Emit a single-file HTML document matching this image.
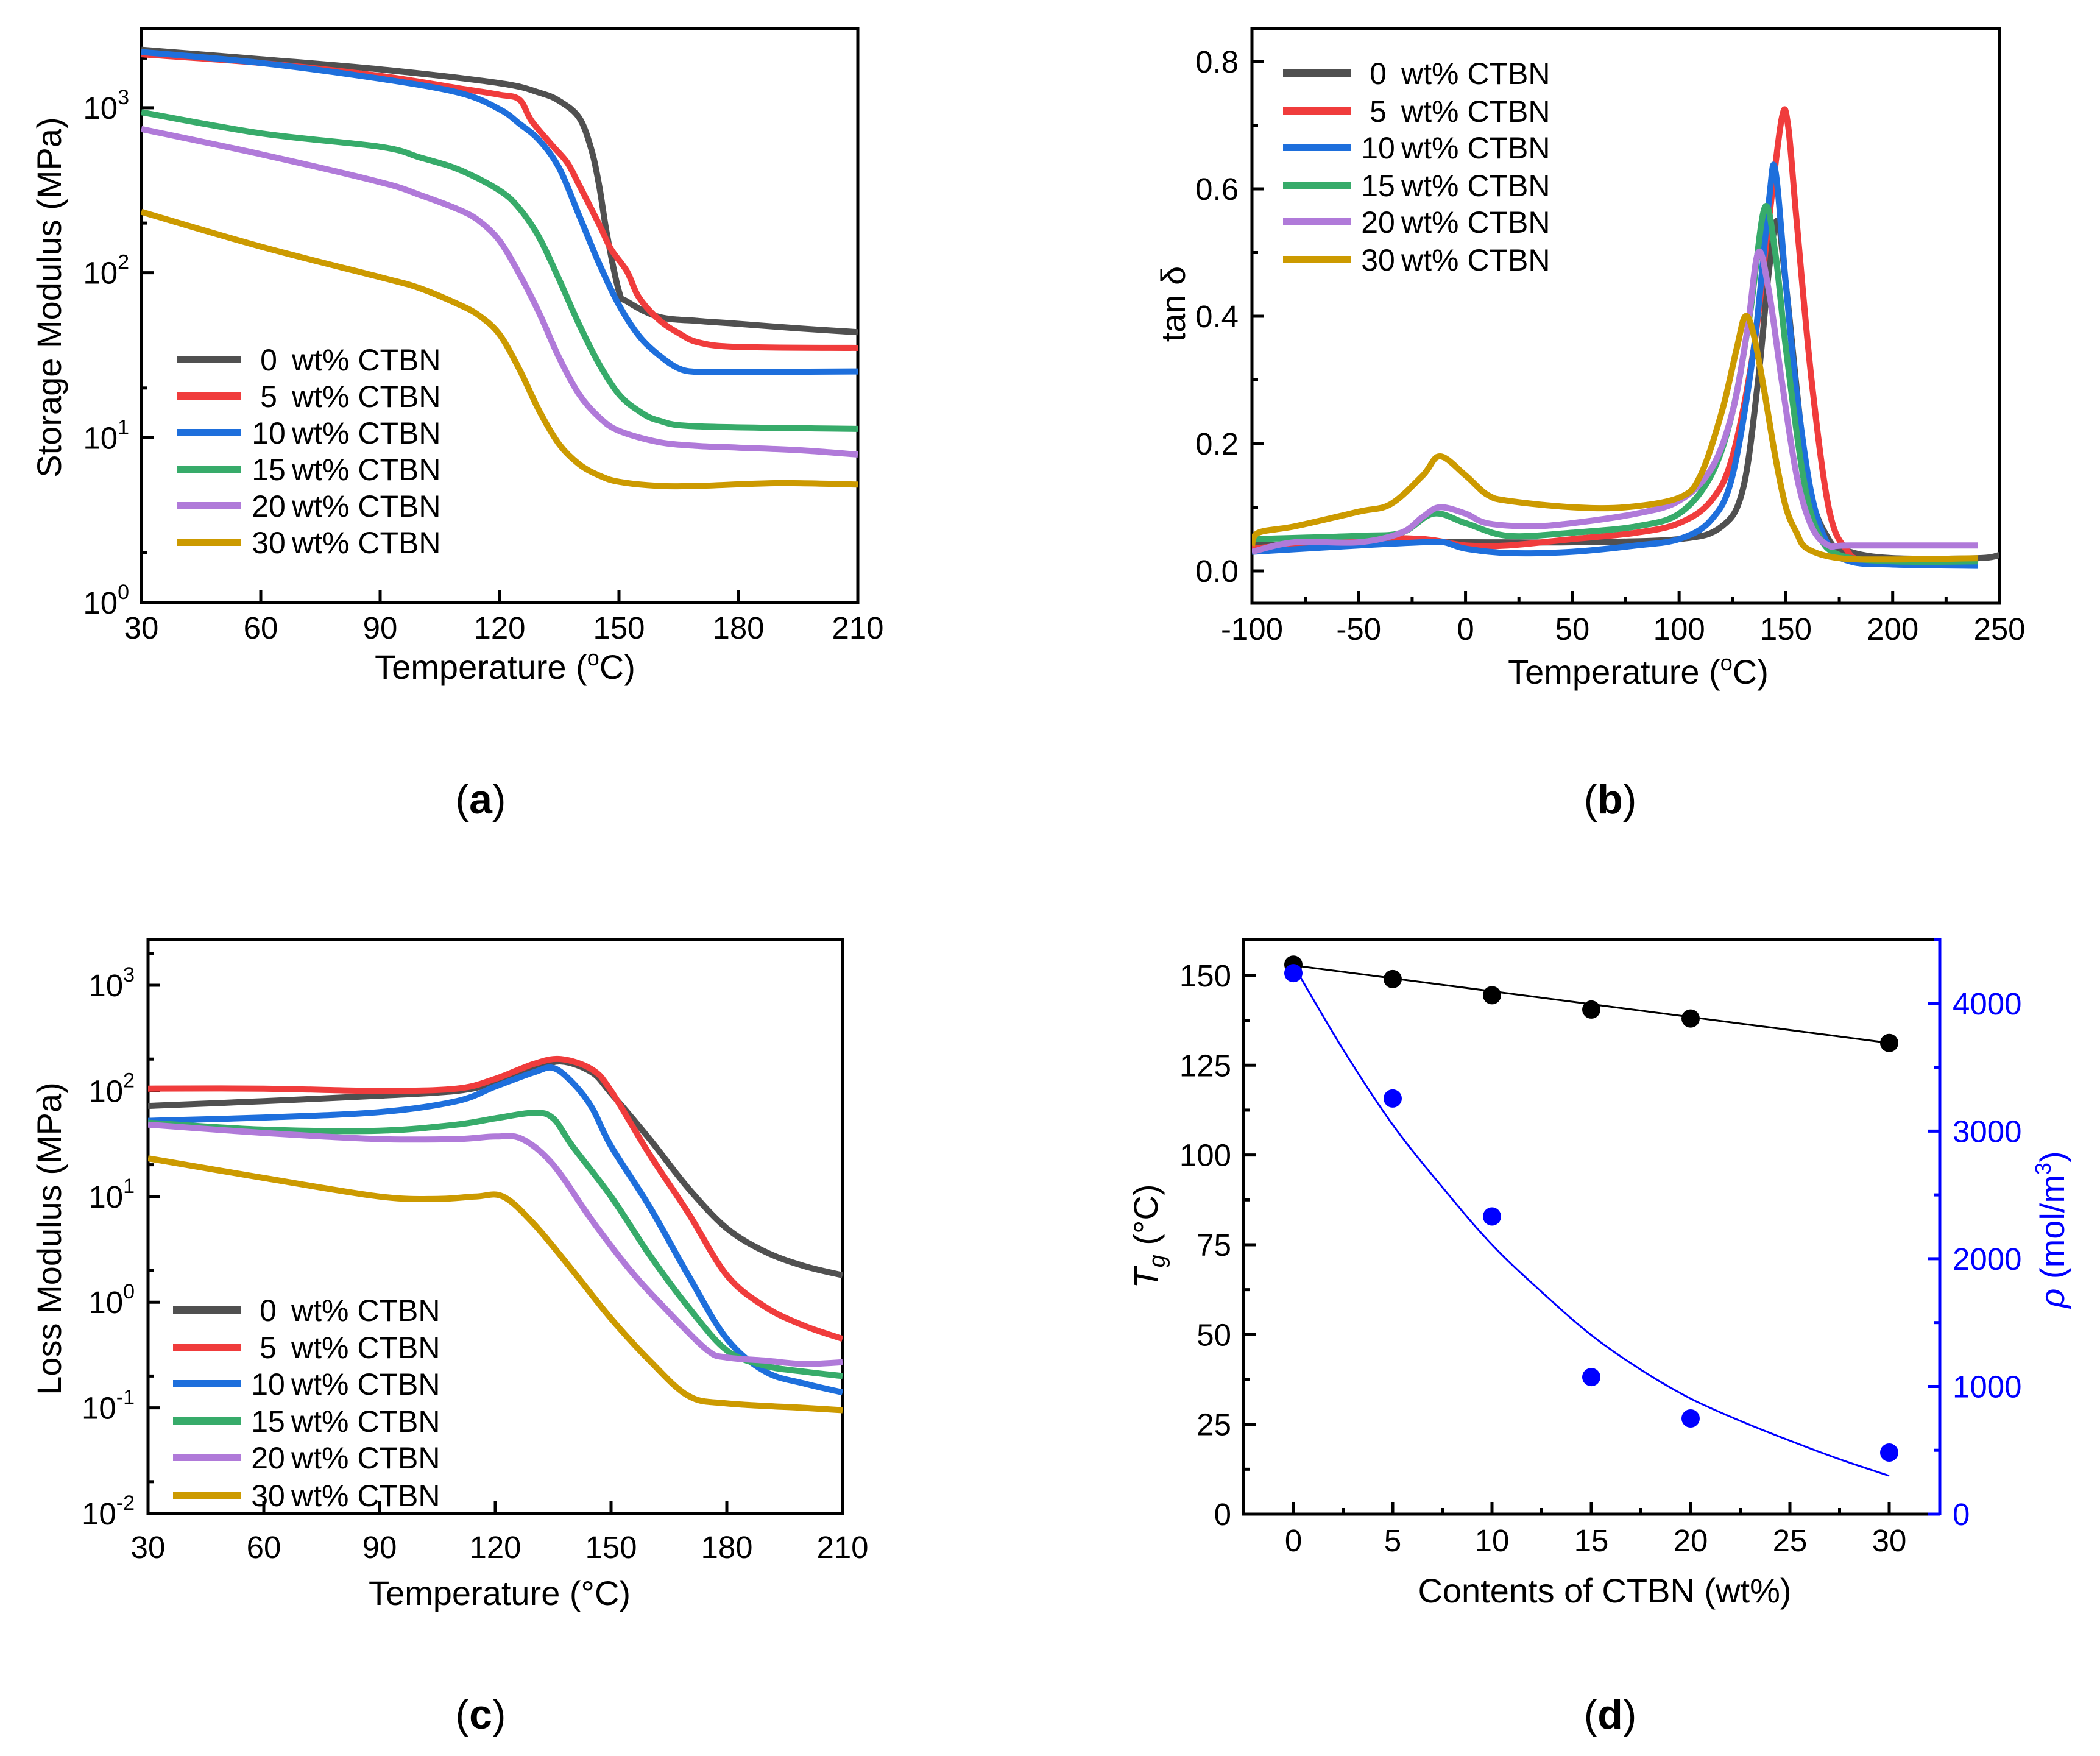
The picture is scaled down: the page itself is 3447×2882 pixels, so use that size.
<!DOCTYPE html>
<html><head><meta charset="utf-8"><title>DMA results</title>
<style>html,body{margin:0;padding:0;background:#fff}svg{display:block}text{font-family:"Liberation Sans",Arial,sans-serif}</style>
</head><body>
<svg id="fig" xmlns="http://www.w3.org/2000/svg" width="3447" height="2882" viewBox="0 0 3447 2882">
<rect width="3447" height="2882" fill="#fff"/>
</svg>
<script>
// ---------- Panel (a) storage modulus data ----------
const aT0=[30,60,90,120,130,135,140,143,145,147,150,152,160,170,180,195,210];
const aE0=[2250,1970,1710,1410,1235,1100,870,565,340,170,77,67,54,51,49,46,43.6];
const aT5=[30,60,90,110,120,125,128,133,137,140,145,148,152,155,160,165,170,180,210];
const aE5=[2110,1870,1560,1310,1200,1120,835,600,465,340,197,139,102,71,52,43,37.8,35.5,35];
const aT10=[30,60,90,110,120,125,130,135,140,145,150,155,160,165,170,180,210];
const aE10=[2180,1870,1500,1230,980,800,635,430,222,114,63.7,41.5,31.7,26.3,25,25,25.2];
const aT15=[30,60,90,100,110,120,125,130,135,140,145,150,155,160,170,210];
const aE15=[940,700,580,500,420,315,245,163,90.6,48.5,28,18.3,14.5,12.7,11.7,11.3];
const aT20=[30,60,90,100,110,115,120,125,130,135,140,145,150,160,170,180,195,210];
const aE20=[743,523,354,296,240,205,156,98,56.7,30.4,18.3,13.3,11,9.4,8.9,8.7,8.4,7.9];
const aT30=[30,60,90,100,110,115,120,125,130,135,140,145,150,160,170,190,210];
const aE30=[234,144,94,80.5,63.8,54.7,42.2,25.9,14.5,9.1,6.9,5.9,5.4,5.1,5.1,5.3,5.2];
const aXTicks=[30,60,90,120,150,180,210];
const aYExp=[0,1,2,3];
// ---------- Panel (b) tan delta data ----------
const bT0=[-100,-50,0,50,100,120,130,137,142,146,150,160,170,180,200,240,250];
const bD0=[0.04,0.045,0.045,0.045,0.05,0.07,0.13,0.30,0.47,0.55,0.45,0.15,0.05,0.03,0.02,0.02,0.025];
const bT5=[-100,-50,-20,0,20,50,80,100,115,125,135,142,148,151,155,162,170,178,190,240];
const bD5=[0.035,0.05,0.05,0.04,0.04,0.05,0.06,0.075,0.11,0.18,0.35,0.55,0.71,0.70,0.55,0.30,0.10,0.035,0.015,0.01];
const bT10=[-100,-50,-20,-10,0,20,50,80,100,115,125,135,142,145,150,155,162,170,180,200,240];
const bD10=[0.03,0.04,0.045,0.045,0.035,0.028,0.03,0.04,0.05,0.08,0.15,0.35,0.58,0.63,0.45,0.28,0.12,0.04,0.015,0.01,0.008];
const bT15=[-100,-50,-30,-15,0,20,50,80,100,115,125,133,140,145,150,158,165,175,200,240];
const bD15=[0.05,0.055,0.06,0.09,0.075,0.055,0.06,0.07,0.09,0.15,0.25,0.40,0.57,0.50,0.35,0.15,0.06,0.025,0.015,0.015];
const bT20=[-100,-80,-50,-30,-20,-12,0,10,30,50,80,100,115,125,132,137,142,148,155,162,170,180,240];
const bD20=[0.03,0.045,0.045,0.06,0.085,0.10,0.09,0.075,0.07,0.075,0.09,0.11,0.16,0.25,0.38,0.50,0.44,0.30,0.15,0.07,0.04,0.04,0.04];
const bT30=[-100,-97,-80,-50,-35,-20,-12,0,10,20,50,75,100,110,120,127,131,135,140,145,150,155,160,175,200,240];
const bD30=[0.04,0.06,0.07,0.093,0.105,0.15,0.18,0.15,0.12,0.11,0.10,0.10,0.115,0.15,0.25,0.35,0.40,0.37,0.28,0.18,0.10,0.06,0.035,0.02,0.018,0.02];
const bXTicks=[-100,-50,0,50,100,150,200,250];
const bYTicks=[0,0.2,0.4,0.6,0.8];
// ---------- Panel (c) loss modulus data ----------
const cT0=[30,60,90,110,120,130,137,145,150,160,170,180,190,200,210];
const cE0=[72,80,90,100,120,160,190,150,95,35,12,5,3,2.2,1.8];
const cT5=[30,60,90,110,120,130,137,145,150,160,170,180,190,200,210];
const cE5=[105,105,100,105,130,180,200,160,100,25,7,1.8,0.9,0.6,0.45];
const cT10=[30,60,90,110,120,130,135,140,145,150,160,170,180,190,200,210];
const cE10=[52,56,63,80,110,150,165,120,70,30,8,1.8,0.45,0.22,0.17,0.14];
const cT15=[30,60,90,110,120,130,135,140,150,160,170,180,190,200,210];
const cE15=[50,43,42,48,55,62,55,30,10,2.8,0.9,0.35,0.25,0.22,0.2];
const cT20=[30,60,90,110,120,127,135,145,155,165,175,180,190,200,210];
const cE20=[48,40,35,35,37,35,20,6,2,0.8,0.35,0.3,0.28,0.26,0.27];
const cT30=[30,60,90,105,115,122,130,140,150,160,170,180,200,210];
const cE30=[23,15,10,9.5,10,10,5.5,2,0.7,0.28,0.13,0.11,0.1,0.095];
const cXTicks=[30,60,90,120,150,180,210];
const cYExp=[-2,-1,0,1,2,3];
// ---------- Panel (d) Tg and crosslink density ----------
const dContent=[0,5,10,15,20,30];
const dTg=[153,149,144.5,140.5,138,131.2];
const dRho=[4237,3255,2331,1073,749,482];
const dTgFitX=[0,30];
const dTgFitY=[152.8,131.2];
const dRhoFitX=[0,2.5,5,7.5,10,12.5,15,17.5,20,22.5,25,27.5,30];
const dRhoFitY=[4300,3640,3050,2560,2110,1740,1402,1130,905,730,575,430,300];
const dXTicks=[0,5,10,15,20,25,30];
const dYTicks=[0,25,50,75,100,125,150];
const dRTicks=[0,1000,2000,3000,4000];

const colors=["#505050","#f03c3c","#1e6fdc","#37ab6a","#b07ad9","#cc9a00"];
const legendLabels=["0","5","10","15","20","30"];
const NS="http://www.w3.org/2000/svg";
const svg=document.getElementById('fig');
function mk(tag,attrs,parent){const e=document.createElementNS(NS,tag);for(const k in attrs)e.setAttribute(k,attrs[k]);(parent||svg).appendChild(e);return e;}
function smooth(p){if(p.length<2)return'';let d='M'+p[0][0].toFixed(1)+','+p[0][1].toFixed(1);for(let i=0;i<p.length-1;i++){const p0=p[i-1]||p[i],p1=p[i],p2=p[i+1],p3=p[i+2]||p2;const c1x=p1[0]+(p2[0]-p0[0])/6,c1y=p1[1]+(p2[1]-p0[1])/6,c2x=p2[0]-(p3[0]-p1[0])/6,c2y=p2[1]-(p3[1]-p1[1])/6;d+=' C'+c1x.toFixed(1)+','+c1y.toFixed(1)+' '+c2x.toFixed(1)+','+c2y.toFixed(1)+' '+p2[0].toFixed(1)+','+p2[1].toFixed(1);}return d;}

function frame(name,L,R,T,B){
  const r=mk('rect',{x:L,y:T,width:R-L,height:B-T,fill:'none',stroke:'#000','stroke-width':5});
  
  
  const cp=mk('clipPath',{id:name+'-clip'});mk('rect',{x:L,y:T,width:R-L,height:B-T},cp);
}
function tick(x1,y1,x2,y2,name,col){const t=mk('line',{x1:x1,y1:y1,x2:x2,y2:y2,stroke:col||'#000','stroke-width':5});
  
  }
function label(x,y,txt,name,opts){const o=opts||{};const t=mk('text',{x:x,y:y,'font-size':o.fs||51,'text-anchor':o.anchor||'middle',fill:o.fill||'#000'});
  if(o.rot)t.setAttribute('transform','rotate(-90 '+x+' '+y+')');
  t.textContent=txt;
  
  return t;}
function pow10(x,y,e,name){const t=mk('text',{x:x,y:y,'font-size':51,'text-anchor':'end'});
  
  
  t.appendChild(document.createTextNode('10'));const s=mk('tspan',{dy:-24,'font-size':34},t);s.textContent=String(e);return t;}
function series(name,xs,ys,fx,fy,col,w){const pts=xs.map((x,i)=>[fx(x),fy(ys[i])]);const p=mk('path',{d:smooth(pts),fill:'none',stroke:col,'stroke-width':w||10,'stroke-linejoin':'round','clip-path':'url(#'+name.split(':')[0]+'-clip)'});
  
  }
function legend(panel,x1,x2,rows){rows.forEach((y,i)=>{const g=mk('g',{});
  
  
  mk('line',{x1:x1,y1:y,x2:x2,y2:y,stroke:colors[i],'stroke-width':12},g);
  const n=mk('text',{x:x2+45,y:y+18,'font-size':50,'text-anchor':'middle'},g);n.textContent=legendLabels[i];
  const t=mk('text',{x:x2+83,y:y+18,'font-size':50},g);t.textContent='wt% CTBN';});}
function superTitle(x,y,pre,sup,post,name,rot){const t=mk('text',{x:x,y:y,'font-size':56,'text-anchor':'middle'});
  if(rot)t.setAttribute('transform','rotate(-90 '+x+' '+y+')');
  
  
  t.appendChild(document.createTextNode(pre));const s=mk('tspan',{dy:-22,'font-size':36},t);s.textContent=sup;const p=mk('tspan',{dy:22},t);p.textContent=post;}

// ===== Panel a =====
(function(){const L=232,R=1408,T=47,B=989,dec=270.7;
 const fx=v=>L+(v-30)/180*(R-L), fy=v=>B-Math.log10(v)*dec;
 frame('a',L,R,T,B);
 aXTicks.forEach(v=>{tick(fx(v),B,fx(v),B-20,'a-x-tick');label(fx(v),B+59,String(v),'a-x-tick-label');});
 aYExp.forEach(e=>{const y=fy(Math.pow(10,e));tick(L,y,L+20,y,'a-y-tick');pow10(L-20,y+18,e,'a-y-tick-label');
   if(e<3){const y2=fy(2*Math.pow(10,e));tick(L,y2,L+10,y2,'a-y-minor-tick');}});
 tick(L,fy(2000),L+10,fy(2000),'a-y-minor-tick');
 const T_=[aT0,aT5,aT10,aT15,aT20,aT30],E_=[aE0,aE5,aE10,aE15,aE20,aE30];
 T_.forEach((t,i)=>series('a:a-series-'+legendLabels[i]+'wt',t,E_[i],fx,fy,colors[i]));
 legend('a',290,396,[590,650,710,770,830,890]);
 superTitle(829,1114,'Temperature (','o','C)','a-x-axis-title');
 label(100,488,'Storage Modulus (MPa)','a-y-axis-title',{fs:56,rot:true});
})();
// ===== Panel b =====
(function(){const L=2055,R=3282,T=47,B=990,y0=937,per=1045;
 const fx=v=>L+(v+100)/350*(R-L), fy=v=>y0-v*per;
 frame('b',L,R,T,B);
 bXTicks.forEach(v=>{tick(fx(v),B,fx(v),B-20,'b-x-tick');label(fx(v),B+60,String(v),'b-x-tick-label');if(v<250)tick(fx(v+25),B,fx(v+25),B-10,'b-x-minor-tick');});
 bYTicks.forEach(v=>{tick(L,fy(v),L+20,fy(v),'b-y-tick');label(L-22,fy(v)+18,v.toFixed(1),'b-y-tick-label',{anchor:'end'});tick(L,fy(v+0.1),L+10,fy(v+0.1),'b-y-minor-tick');});
 const T_=[bT0,bT5,bT10,bT15,bT20,bT30],D_=[bD0,bD5,bD10,bD15,bD20,bD30];
 T_.forEach((t,i)=>series('b:b-series-'+legendLabels[i]+'wt',t,D_[i],fx,fy,colors[i]));
 legend('b',2106,2217,[120,182,242,304,364,426]);
 superTitle(2689,1122,'Temperature (','o','C)','b-x-axis-title');
 label(1945,499,'tan δ','b-y-axis-title',{fs:56,rot:true});
})();
// ===== Panel c =====
(function(){const L=243,R=1383,T=1542,B=2484,dec=173.4;
 const fx=v=>L+(v-30)/180*(R-L), fy=v=>B-(Math.log10(v)+2)*dec;
 frame('c',L,R,T,B);
 cXTicks.forEach(v=>{tick(fx(v),B,fx(v),B-20,'c-x-tick');label(fx(v),B+73,String(v),'c-x-tick-label');});
 cYExp.forEach(e=>{const y=fy(Math.pow(10,e));tick(L,y,L+20,y,'c-y-tick');pow10(L-22,y+18,e,'c-y-tick-label');tick(L,fy(2*Math.pow(10,e)),L+10,fy(2*Math.pow(10,e)),'c-y-minor-tick');});
 const T_=[cT0,cT5,cT10,cT15,cT20,cT30],E_=[cE0,cE5,cE10,cE15,cE20,cE30];
 T_.forEach((t,i)=>series('c:c-series-'+legendLabels[i]+'wt',t,E_[i],fx,fy,colors[i]));
 legend('c',284,395,[2150,2211,2271,2332,2392,2454]);
 label(820,2634,'Temperature (°C)','c-x-axis-title',{fs:56});
 label(100,2033,'Loss Modulus (MPa)','c-y-axis-title',{fs:56,rot:true});
})();
// ===== Panel d =====
(function(){const L=2041,R=3184,T=1542,B=2485;
 const fx=v=>2123+v/5*163, fy=v=>B-v/160*(B-T), fr=v=>B-v/4500*(B-T);
 const cp=mk('clipPath',{id:'d-clip'});mk('rect',{x:L,y:T,width:R-L,height:B-T},cp);
 const ax=mk('path',{d:'M'+R+','+T+' H'+L+' V'+B+' H'+R,fill:'none',stroke:'#000','stroke-width':5});
 
 
 const ra=mk('line',{x1:R,y1:T-2,x2:R,y2:B+2,stroke:'#0000ff','stroke-width':5});
 
 
 dXTicks.forEach(v=>{tick(fx(v),B,fx(v),B-20,'d-x-tick');label(fx(v),2546,String(v),'d-x-tick-label');if(v<30)tick(fx(v+2.5),B,fx(v+2.5),B-10,'d-x-minor-tick');});
 dYTicks.forEach(v=>{tick(L,fy(v),L+20,fy(v),'d-y-tick');label(2021,fy(v)+18,String(v),'d-y-tick-label',{anchor:'end'});if(v<150)tick(L,fy(v+12.5),L+10,fy(v+12.5),'d-y-minor-tick');});
 dRTicks.forEach(v=>{tick(R,fr(v),R-20,fr(v),'d-right-tick','#0000ff');label(3205,fr(v)+18,String(v),'d-right-tick-label',{anchor:'start',fill:'#0000ff'});tick(R,fr(v+500),R-10,fr(v+500),'d-right-minor-tick','#0000ff');});
 const tl=mk('path',{d:'M'+fx(dTgFitX[0])+','+fy(dTgFitY[0])+' L'+fx(dTgFitX[1])+','+fy(dTgFitY[1]),stroke:'#000','stroke-width':3,fill:'none'});
 
 
 const rl=mk('path',{d:smooth(dRhoFitX.map((x,i)=>[fx(x),fr(dRhoFitY[i])])),stroke:'#0000ff','stroke-width':3,fill:'none'});
 
 
 dContent.forEach((c,i)=>{const p=mk('circle',{cx:fx(c),cy:fy(dTg[i]),r:15,fill:'#000'});
   
   });
 dContent.forEach((c,i)=>{const p=mk('circle',{cx:fx(c),cy:fr(dRho[i]),r:15,fill:'#0000ff'});
   
   });
 label(2634,2630,'Contents of CTBN (wt%)','d-x-axis-title',{fs:56});
 const t=mk('text',{x:1900,y:2029,'font-size':56,'text-anchor':'middle',transform:'rotate(-90 1900 2029)'});
 
 
 const i1=mk('tspan',{'font-style':'italic'},t);i1.textContent='T';const i2=mk('tspan',{'font-style':'italic','font-size':38,dy:12},t);i2.textContent='g';const i3=mk('tspan',{dy:-12},t);i3.textContent=' (°C)';
 const r=mk('text',{x:3388,y:2018,'font-size':56,'text-anchor':'middle',fill:'#0000ff',transform:'rotate(-90 3388 2018)'});
 
 
 const r1=mk('tspan',{'font-style':'italic'},r);r1.textContent='ρ';const r2=mk('tspan',{},r);r2.textContent=' (mol/m';const r3=mk('tspan',{dy:-22,'font-size':36},r);r3.textContent='3';const r4=mk('tspan',{dy:22},r);r4.textContent=')';
})();
// ===== Captions =====
[['(','a',')',789,1335],['(','b',')',2643,1335],['(','c',')',789,2837],['(','d',')',2643,2837]].forEach(c=>{
 const t=mk('text',{x:c[3],y:c[4],'font-size':68,'text-anchor':'middle','font-family':'Liberation Serif, serif'});
 
 
 t.appendChild(document.createTextNode(c[0]));const b=mk('tspan',{'font-weight':'bold'},t);b.textContent=c[1];t.appendChild(document.createTextNode(c[2]));});
</script>
</body></html>
